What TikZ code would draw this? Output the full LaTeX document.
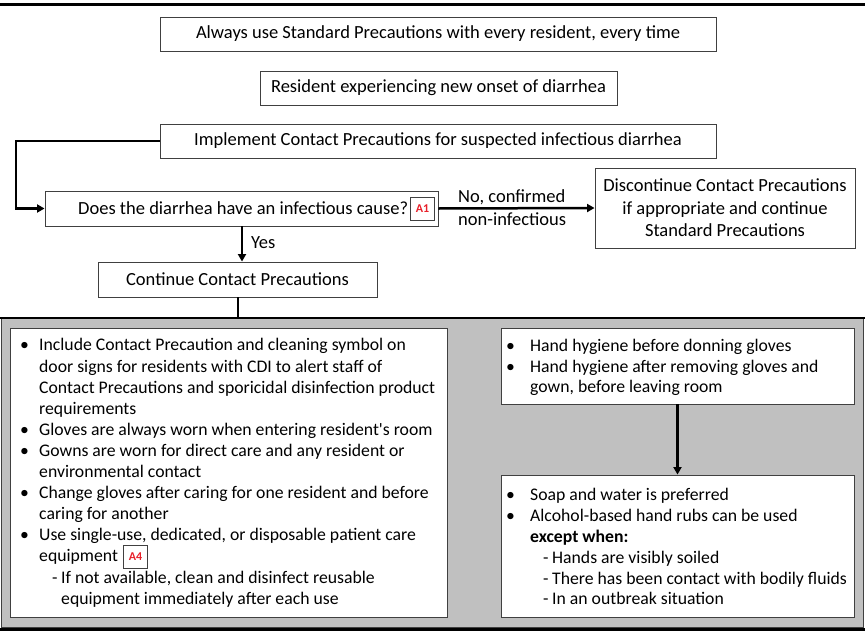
\documentclass[tikz,border=0pt]{standalone}
\usepackage{fontspec}
\setmainfont{Carlito}
\usetikzlibrary{arrows.meta}
\definecolor{boxc}{HTML}{404040}
\definecolor{panelc}{HTML}{C0C0C0}
\definecolor{badgered}{HTML}{E8202A}
\newcommand\lbul{\makebox[19pt][l]{•}}
\newcommand\lind{\hspace*{19pt}}
\newcommand\ldash{\hspace*{32pt}\makebox[9pt][l]{-}}
\newcommand\ldind{\hspace*{41pt}}
\newcommand\rbul{\makebox[24pt][l]{•}}
\newcommand\rind{\hspace*{24pt}}
\newcommand\rdash{\hspace*{37pt}\makebox[9pt][l]{-}}
\begin{document}
\begin{tikzpicture}[x=1pt,y=-1pt,
  box/.style={draw=boxc, line width=0.9pt, fill=white, inner sep=0pt},
  txt/.style={font=\fontsize{18.5}{22}\selectfont, inner sep=0pt},
  ltxt/.style={font=\fontsize{17.7}{21.1}\selectfont, inner sep=0pt},
  conn/.style={line width=2.5pt, draw=black},
  arr/.style={conn, -{Triangle[length=7.5pt,width=8pt]}},
  badge/.style={draw=boxc, line width=0.6pt, fill=white, text=badgered,
    font=\bfseries\fontsize{12}{12}\selectfont, inner sep=0pt,
    minimum width=24pt, minimum height=23pt}]
\useasboundingbox (0,0) rectangle (865,632);

% page rule
\draw[line width=3pt] (0,4) -- (865,4);

% upper flow
\node[box, txt, minimum width=556pt, minimum height=34pt] (std) at (438,34)
  {Always use Standard Precautions with every resident, every time};
\node[box, txt, minimum width=357pt, minimum height=34pt] (onset) at (438.5,88)
  {Resident experiencing new onset of diarrhea};
\node[box, txt, minimum width=556pt, minimum height=34pt] (impl) at (438,141)
  {Implement Contact Precautions for suspected infectious diarrhea};
\node[box, minimum width=393pt, minimum height=35pt] (q) at (241.5,208.5) {};
\node[txt, anchor=west] (qtxt) at (78,208.5) {Does the diarrhea have an infectious cause?};
\node[badge] (a1) at (422.5,209) {A1};
\node[box, txt, align=center, font=\fontsize{18.5}{22.5}\selectfont,
  minimum width=260pt, minimum height=80pt] (disc) at (725,208)
  {Discontinue Contact Precautions\\if appropriate and continue\\Standard Precautions};
\node[box, txt, minimum width=279pt, minimum height=35pt] (cont) at (237.5,279.5)
  {Continue Contact Precautions};

\coordinate (bend) at (16,141);
\draw[arr] (impl.west) -- (bend) |- (q.west);
\draw[arr] (q.east) -- (disc.west);
\node[txt, anchor=west, align=left, font=\fontsize{18.5}{23}\selectfont] (nolab) at (458,207.5)
  {No, confirmed\\non-infectious};
\draw[arr] (q.south -| 242,0) -- (cont.north -| 242,0);
\node[txt, anchor=west] (yes) at (251,243) {Yes};

% grey panel
\node[draw=boxc, line width=1.2pt, fill=panelc, inner sep=0pt,
  minimum width=862pt, minimum height=310pt] (panel) at (432.5,473) {};
\draw[conn] (cont.south -| 238,0) -- (panel.north -| 238,0);
\draw[line width=2.6pt] (0,318) -- (865,318);
\draw[line width=3pt] (0,629.5) -- (865,629.5);

% left list
\node[box, minimum width=437pt, minimum height=289pt] (left) at (228.5,472.5) {};
\node[ltxt, anchor=north west, align=left] (ltext) at (20,338.5)
  {\lbul Include Contact Precaution and cleaning symbol on\\
   \lind door signs for residents with CDI to alert staff of\\
   \lind Contact Precautions and sporicidal disinfection product\\
   \lind requirements\\
   \lbul Gloves are always worn when entering resident\textquotesingle s room\\
   \lbul Gowns are worn for direct care and any resident or\\
   \lind environmental contact\\
   \lbul Change gloves after caring for one resident and before\\
   \lind caring for another\\
   \lbul Use single-use, dedicated, or disposable patient care\\
   \lind equipment\\
   \ldash If not available, clean and disinfect reusable\\
   \ldind equipment immediately after each use};
\node[badge] (a4) at (135.5,557) {A4};

% right lists
\node[box, minimum width=353pt, minimum height=76pt] (hh) at (677.5,366) {};
\node[ltxt, anchor=north west, align=left, font=\fontsize{17.7}{20.6}\selectfont] (hhtxt) at (506,339)
  {\rbul Hand hygiene before donning gloves\\
   \rbul Hand hygiene after removing gloves and\\
   \rind gown, before leaving room};
\node[box, minimum width=353pt, minimum height=142pt] (soap) at (677.5,546) {};
\node[ltxt, anchor=north west, align=left, font=\fontsize{17.7}{20.8}\selectfont] (soaptxt) at (506,488.5)
  {\rbul Soap and water is preferred\\
   \rbul Alcohol-based hand rubs can be used\\
   \rind\textbf{except when:}\\
   \rdash Hands are visibly soiled\\
   \rdash There has been contact with bodily fluids\\
   \rdash In an outbreak situation};
\draw[arr] (hh.south) -- (soap.north);
\end{tikzpicture}
\end{document}
